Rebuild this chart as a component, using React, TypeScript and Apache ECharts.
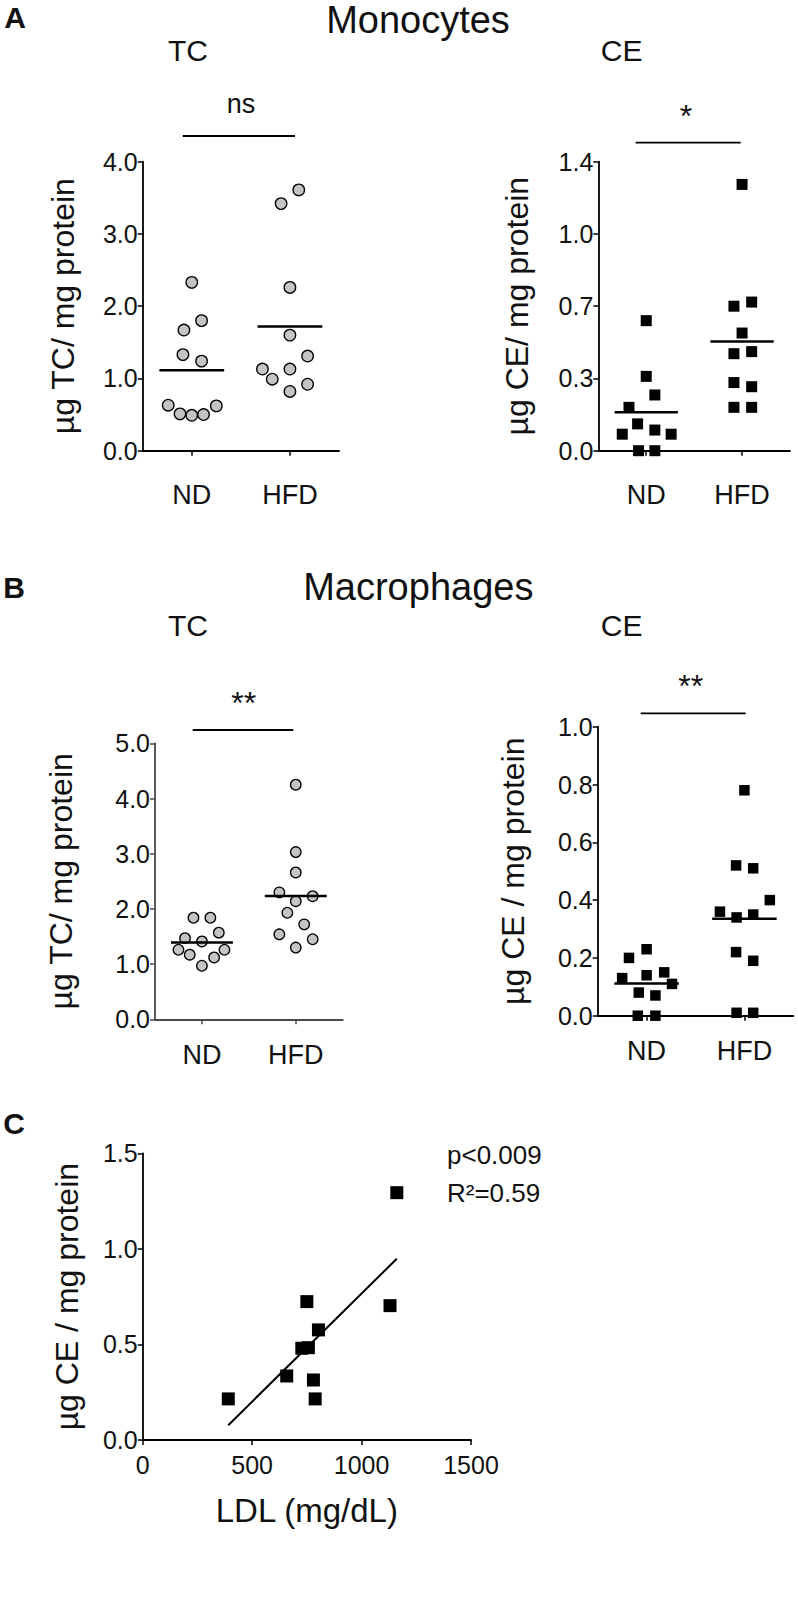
import React, { useEffect, useRef } from "react";
import * as echarts from "echarts";

const FONT = "'Liberation Sans', Arial, Helvetica, sans-serif";
const INK = "#111";

// ---------- data ----------
const groups = ["ND", "HFD"];

// A: Monocytes, TC (µg TC / mg protein)
const monoTC_ND = [2.33, 1.67, 1.8, 1.33, 1.24, 0.63, 0.51, 0.49, 0.5, 0.62];
const monoTC_ND_jitter = [0, -0.08, 0.1, -0.09, 0.1, -0.24, -0.12, 0, 0.12, 0.25];
const monoTC_HFD = [3.61, 3.42, 2.26, 1.6, 1.31, 1.13, 1.13, 0.99, 0.92, 0.82];
const monoTC_HFD_jitter = [0.09, -0.09, 0, 0, 0.18, -0.28, 0, -0.18, 0.18, 0];

// A: Monocytes, CE (µg CE / mg protein)
const monoCE_ND = [0.63, 0.36, 0.27, 0.21, 0.13, 0.08, 0.1, 0.08, 0.0, 0.0];
const monoCE_ND_jitter = [0, 0, 0.09, -0.18, -0.09, -0.25, 0.09, 0.26, -0.08, 0.09];
const monoCE_HFD = [1.29, 0.7, 0.72, 0.57, 0.47, 0.48, 0.33, 0.31, 0.21, 0.21];
const monoCE_HFD_jitter = [0, -0.085, 0.1, 0, -0.085, 0.1, -0.085, 0.1, -0.085, 0.1];
const monoCE_tickLabels = ["0.0", "0.3", "0.7", "1.0", "1.4"];

// B: Macrophages, TC
const macTC_ND = [1.84, 1.84, 1.47, 1.57, 1.41, 1.26, 1.26, 1.17, 1.12, 0.97];
const macTC_ND_jitter = [-0.09, 0.09, -0.18, 0.18, 0, -0.25, 0.24, -0.13, 0.13, 0];
const macTC_HFD = [4.25, 3.03, 2.66, 2.3, 2.23, 2.14, 1.93, 1.72, 1.54, 1.45, 1.3];
const macTC_HFD_jitter = [0, 0, 0, -0.175, 0.18, 0, -0.09, 0.09, -0.175, 0.18, 0];

// B: Macrophages, CE
const macCE_ND = [0.2, 0.23, 0.13, 0.14, 0.15, 0.11, 0.08, 0.07, 0.0, 0.0];
const macCE_ND_jitter = [-0.18, 0, -0.25, 0, 0.18, 0.26, -0.08, 0.09, -0.09, 0.09];
const macCE_HFD = [0.78, 0.52, 0.51, 0.4, 0.36, 0.34, 0.35, 0.22, 0.19, 0.01, 0.01];
const macCE_HFD_jitter = [0, -0.085, 0.09, 0.26, -0.25, -0.08, 0.09, -0.085, 0.09, -0.08, 0.09];

// C: correlation LDL vs CE
const ldl = [391, 658, 727, 757, 750, 803, 780, 788, 1130, 1161];
const ceVsLdl = [0.215, 0.335, 0.48, 0.483, 0.724, 0.576, 0.314, 0.215, 0.703, 1.294];

// ---------- helpers ----------
const mean = (a: number[]) => a.reduce((s, v) => s + v, 0) / a.length;

type Panel = {
  grid: { left: number; top: number; width: number; height: number };
  yMax: number;
  yInt: number;
  yFmt: (v: number) => string;
  yName: string;
  nameGap: number;
  labelMargin: number;
  axisColor: string;
  nd: number[];
  ndJ: number[];
  hfd: number[];
  hfdJ: number[];
  symbol: string;
  size: number;
  fill: string;
};

const fix1 = (v: number) => v.toFixed(1);

const panels: Panel[] = [
  {
    grid: { left: 142.7, top: 161.7, width: 196.3, height: 289 },
    yMax: 4, yInt: 1, yFmt: fix1, yName: "µg TC/ mg protein", nameGap: 64, labelMargin: 31,
    axisColor: "#000",
    nd: monoTC_ND, ndJ: monoTC_ND_jitter, hfd: monoTC_HFD, hfdJ: monoTC_HFD_jitter,
    symbol: "circle", size: 11.5, fill: "#c4c4c4",
  },
  {
    grid: { left: 598.3, top: 161.7, width: 191.7, height: 289 },
    yMax: 1.4, yInt: 0.35,
    yFmt: (v: number) => monoCE_tickLabels[Math.round(v / 0.35)] ?? "",
    yName: "µg CE/ mg protein", nameGap: 65, labelMargin: 31,
    axisColor: "#000",
    nd: monoCE_ND, ndJ: monoCE_ND_jitter, hfd: monoCE_HFD, hfdJ: monoCE_HFD_jitter,
    symbol: "rect", size: 11, fill: "#000",
  },
  {
    grid: { left: 155, top: 743.3, width: 187.7, height: 276 },
    yMax: 5, yInt: 1, yFmt: fix1, yName: "µg TC/ mg protein", nameGap: 78, labelMargin: 22,
    axisColor: "#4a4a4a",
    nd: macTC_ND, ndJ: macTC_ND_jitter, hfd: macTC_HFD, hfdJ: macTC_HFD_jitter,
    symbol: "circle", size: 10.5, fill: "#c4c4c4",
  },
  {
    grid: { left: 597.7, top: 726.7, width: 195.6, height: 289 },
    yMax: 1.0, yInt: 0.2, yFmt: fix1, yName: "µg CE / mg protein", nameGap: 69, labelMargin: 22,
    axisColor: "#000",
    nd: macCE_ND, ndJ: macCE_ND_jitter, hfd: macCE_HFD, hfdJ: macCE_HFD_jitter,
    symbol: "rect", size: 10.5, fill: "#000",
  },
];

const mkAxisLine = (color: string) => ({ show: true, lineStyle: { color, width: 1.8 } });
const mkAxisTick = (color: string) => ({ show: true, length: 5, lineStyle: { color, width: 1.5 } });
const tickLabel = { color: INK, fontSize: 25, fontFamily: FONT };
const MEAN_HALF = 0.33;

function buildOption() {
  const grid: any[] = [];
  const xAxis: any[] = [];
  const yAxis: any[] = [];
  const series: any[] = [];

  panels.forEach((p, i) => {
    grid.push({ ...p.grid, containLabel: false, outerBoundsMode: "none" });
    // visible category axis
    xAxis.push({
      type: "category",
      gridIndex: i,
      data: groups,
      boundaryGap: true,
      axisLine: mkAxisLine(p.axisColor),
      axisTick: { ...mkAxisTick(p.axisColor), alignWithLabel: true },
      axisLabel: { ...tickLabel, fontSize: 27, margin: p.labelMargin },
      splitLine: { show: false },
    });
    // hidden positioning axis
    xAxis.push({ type: "value", gridIndex: i, min: 0, max: 2, show: false, splitLine: { show: false } });
    yAxis.push({
      type: "value",
      gridIndex: i,
      min: 0,
      max: p.yMax,
      interval: p.yInt,
      axisLine: mkAxisLine(p.axisColor),
      axisTick: mkAxisTick(p.axisColor),
      axisLabel: { ...tickLabel, margin: 5, formatter: p.yFmt },
      splitLine: { show: false },
      name: p.yName,
      nameLocation: "middle",
      nameRotate: 90,
      nameGap: p.nameGap,
      nameTextStyle: { color: INK, fontSize: 32, fontFamily: FONT },
    });
    const xi = 2 * i + 1;
    [
      { vals: p.nd, jit: p.ndJ, c: 0 },
      { vals: p.hfd, jit: p.hfdJ, c: 1 },
    ].forEach((g) => {
      series.push({
        type: "scatter",
        xAxisIndex: xi,
        yAxisIndex: i,
        clip: false,
        symbol: p.symbol,
        symbolSize: p.size,
        itemStyle: {
          color: p.fill,
          borderColor: "#000",
          borderWidth: p.symbol === "circle" ? 1.3 : 0,
          opacity: 1,
        },
        z: 3,
        data: g.vals.map((v, k) => [g.c + 0.5 + g.jit[k], v]),
      });
      const m = mean(g.vals);
      series.push({
        type: "line",
        xAxisIndex: xi,
        yAxisIndex: i,
        clip: false,
        symbol: "none",
        lineStyle: { color: "#000", width: 2.5 },
        z: 4,
        data: [
          [g.c + 0.5 - MEAN_HALF, m],
          [g.c + 0.5 + MEAN_HALF, m],
        ],
      });
    });
  });

  // Panel C
  const ci = panels.length;
  grid.push({ left: 142.7, top: 1153.3, width: 328.3, height: 286.7, containLabel: false, outerBoundsMode: "none" });
  xAxis.push({
    type: "value",
    gridIndex: ci,
    min: 0,
    max: 1500,
    interval: 500,
    axisLine: mkAxisLine("#000"),
    axisTick: mkAxisTick("#000"),
    axisLabel: { ...tickLabel, margin: 12, formatter: (v: number) => String(v) },
    splitLine: { show: false },
    name: "LDL (mg/dL)",
    nameLocation: "middle",
    nameGap: 54,
    nameTextStyle: { color: INK, fontSize: 33, fontFamily: FONT },
  });
  yAxis.push({
    type: "value",
    gridIndex: ci,
    min: 0,
    max: 1.5,
    interval: 0.5,
    axisLine: mkAxisLine("#000"),
    axisTick: mkAxisTick("#000"),
    axisLabel: { ...tickLabel, margin: 5, formatter: fix1 },
    splitLine: { show: false },
    name: "µg CE / mg protein",
    nameLocation: "middle",
    nameRotate: 90,
    nameGap: 60,
    nameTextStyle: { color: INK, fontSize: 32, fontFamily: FONT },
  });
  const cxIndex = xAxis.length - 1;
  const cyIndex = yAxis.length - 1;
  const mx = mean(ldl);
  const my = mean(ceVsLdl);
  let sxy = 0;
  let sxx = 0;
  ldl.forEach((x, k) => {
    sxy += (x - mx) * (ceVsLdl[k] - my);
    sxx += (x - mx) * (x - mx);
  });
  const slope = sxy / sxx;
  const icpt = my - slope * mx;
  const x0 = Math.min(...ldl);
  const x1 = Math.max(...ldl);
  series.push({
    type: "scatter",
    xAxisIndex: cxIndex,
    yAxisIndex: cyIndex,
    clip: false,
    symbol: "rect",
    symbolSize: 13,
    itemStyle: { color: "#000", opacity: 1 },
    z: 3,
    data: ldl.map((x, k) => [x, ceVsLdl[k]]),
  });
  series.push({
    type: "line",
    xAxisIndex: cxIndex,
    yAxisIndex: cyIndex,
    symbol: "none",
    lineStyle: { color: "#000", width: 2 },
    z: 2,
    data: [
      [x0, icpt + slope * x0],
      [x1, icpt + slope * x1],
    ],
  });

  const txt = (text: string, x: number, y: number, size: number, extra: any = {}) => ({
    type: "text",
    x,
    y,
    style: {
      text,
      fill: INK,
      fontSize: size,
      fontFamily: FONT,
      align: "center",
      verticalAlign: "middle",
      ...extra,
    },
  });
  const bar = (x1: number, x2: number, y: number) => ({
    type: "line",
    shape: { x1, y1: y, x2, y2: y },
    style: { stroke: "#000", lineWidth: 1.8 },
  });

  const graphic = [
    txt("A", 15, 2, 30, { fontWeight: "bold", verticalAlign: "top" }),
    txt("Monocytes", 418, 1, 38, { verticalAlign: "top" }),
    txt("TC", 188, 50, 30),
    txt("CE", 621.7, 50, 30),
    txt("ns", 241, 104, 27),
    bar(182.7, 295, 136),
    txt("*", 686, 116, 32),
    bar(635.7, 740.7, 142.7),

    txt("B", 14, 587, 30, { fontWeight: "bold" }),
    txt("Macrophages", 418.3, 587, 38),
    txt("TC", 188, 625, 30),
    txt("CE", 621.7, 625, 30),
    txt("**", 243.7, 703, 32),
    bar(192.7, 293.3, 730),
    txt("**", 690.7, 686, 32),
    bar(640.7, 745.7, 713.3),

    txt("C", 14, 1123, 30, { fontWeight: "bold" }),
    txt("p<0.009", 447, 1155, 26, { align: "left" }),
    txt("R²=0.59", 447, 1193, 26, { align: "left" }),
  ];

  return {
    animation: false,
    backgroundColor: "#fff",
    textStyle: { fontFamily: FONT },
    grid,
    xAxis,
    yAxis,
    series,
    graphic,
  };
}

export default function App() {
  const ref = useRef<HTMLDivElement>(null);
  useEffect(() => {
    const chart = echarts.init(ref.current!, null, { renderer: "svg" });
    chart.setOption(buildOption() as any);
    return () => chart.dispose();
  }, []);
  return (
    <div
      ref={ref}
      style={{ position: "absolute", left: 0, top: 0, width: 798, height: 1602, background: "#fff" }}
    />
  );
}
